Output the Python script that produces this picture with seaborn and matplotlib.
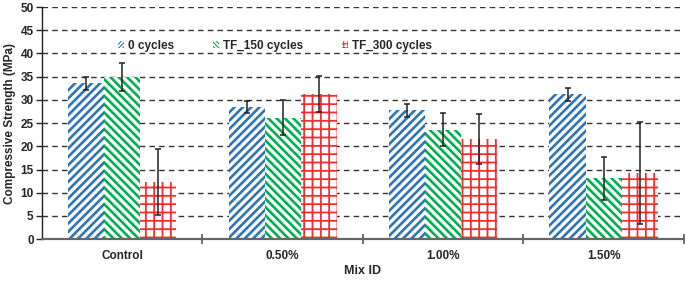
import matplotlib
matplotlib.use("Agg")
import matplotlib.pyplot as plt
import matplotlib.patches as mpatches
import seaborn as sns
import pandas as pd

# values
mixes = ["Control", "0.50%", "1.00%", "1.50%"]
series = ["0 cycles", "TF_150 cycles", "TF_300 cycles"]
cycles_0 = [33.6, 28.4, 27.8, 31.2]
err_0 = [1.4, 1.3, 1.4, 1.4]
tf_150 = [34.9, 26.2, 23.6, 13.1]
err_150 = [3.0, 3.8, 3.6, 4.65]
tf_300 = [12.3, 31.25, 21.5, 14.3]
err_300 = [7.2, 3.9, 5.4, 11.0]

colors = ["#2E75B6", "#00B050", "#F03030"]
hatches = ["////", "\\\\\\\\", "++"]

rows = []
for name, vals, errs in zip(series, [cycles_0, tf_150, tf_300], [err_0, err_150, err_300]):
    for mix, v, e in zip(mixes, vals, errs):
        rows.append({"mix": mix, "series": name, "strength": v, "err": e})
df = pd.DataFrame(rows)

sns.set_style("white")
plt.rcParams["font.family"] = ["Liberation Sans", "DejaVu Sans"]
plt.rcParams["font.weight"] = "bold"
plt.rcParams["hatch.linewidth"] = 1.9

fig = plt.figure(figsize=(6.85, 2.82), dpi=100)
ax = fig.add_axes([0.0613, 0.152, 0.937, 0.823])

sns.barplot(data=df, x="mix", y="strength", hue="series", order=mixes, hue_order=series,
            width=0.675, errorbar=None, palette=["white"] * 3, ax=ax, zorder=2, legend=False)

for cont, name, col, h in zip(ax.containers, series, colors, hatches):
    for bar in cont:
        bar.set_facecolor("white")
        bar.set_edgecolor(col)
        bar.set_hatch(h)
        bar.set_linewidth(0)
        if h == "++" and hasattr(bar, "set_hatch_linewidth"):
            bar.set_hatch_linewidth(1.3)
    sub = df[df["series"] == name].set_index("mix").loc[mixes]
    xs = [b.get_x() + b.get_width() / 2 for b in cont]
    hs = [b.get_height() for b in cont]
    ax.errorbar(xs, hs, yerr=sub["err"].values, fmt="none", ecolor="#222222",
                elinewidth=1.1, capsize=2.5, capthick=1.1, zorder=4)

ax.set_ylim(0, 50)
ax.set_xlim(-0.5, 3.5)
ax.set_yticks(range(0, 51, 5))
ax.yaxis.grid(True, linestyle=(0, (4, 3)), color="#333333", linewidth=1.0, zorder=0)
ax.set_axisbelow(True)
ax.tick_params(axis="y", which="major", direction="out", length=4, width=1, labelsize=8.5, pad=2, left=True)
ax.set_xticks(range(4))
ax.set_xticklabels(mixes, fontweight="bold")
ax.tick_params(axis="x", which="major", length=0, labelsize=8.5, pad=8)
ax.set_xticks([0.5, 1.5, 2.5, 3.5], minor=True)
ax.tick_params(axis="x", which="minor", direction="inout", length=7, width=1.2, color="#555555", bottom=True)
for lab in ax.get_yticklabels():
    lab.set_fontweight("bold")

for side in ["top", "right"]:
    ax.spines[side].set_visible(False)
ax.spines["left"].set_color("#222222")
ax.spines["left"].set_linewidth(1.0)
ax.spines["bottom"].set_color("#666666")
ax.spines["bottom"].set_linewidth(1.6)

ax.set_xlabel("Mix ID", fontsize=9, fontweight="bold", labelpad=2)
ax.set_ylabel("Compressive Strength (MPa)", fontsize=8.5, fontweight="bold", labelpad=3)

handles = []
for name, col, h in zip(series, colors, hatches):
    handles.append(mpatches.Patch(facecolor="white", edgecolor=col, hatch=h * 2,
                                  linewidth=0, label=name))
leg = ax.legend(handles=handles, loc="upper left", bbox_to_anchor=(0.105, 0.895), ncol=3,
                frameon=False, fontsize=8.5, handlelength=0.55, handleheight=0.6,
                handletextpad=0.3, columnspacing=3.3, borderpad=0.2)
for p in leg.get_patches():
    if hasattr(p, "set_hatch_linewidth"):
        p.set_hatch_linewidth(0.8)

fig.savefig("out.png", dpi=100)
